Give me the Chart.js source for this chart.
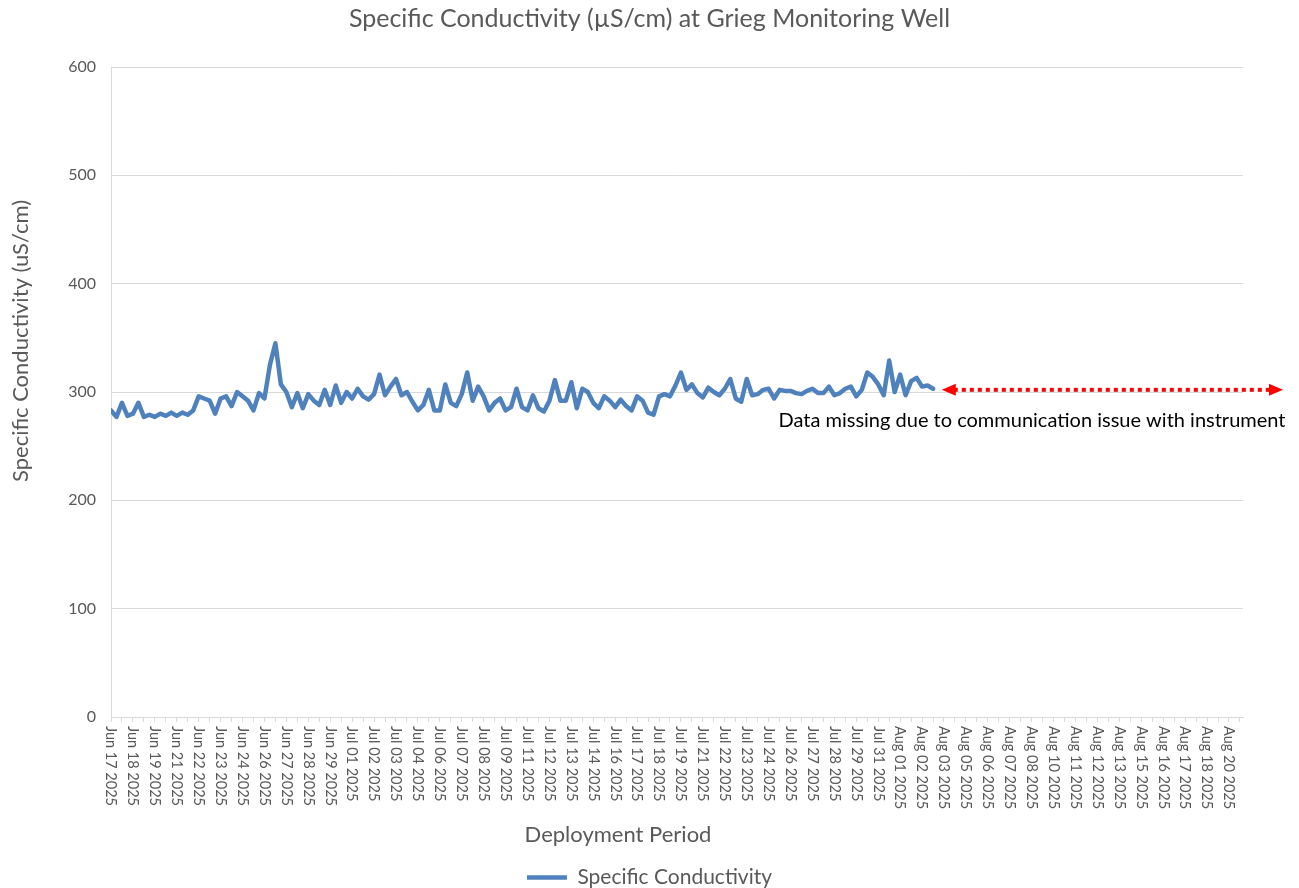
<!DOCTYPE html>
<html>
<head>
<meta charset="utf-8">
<title>Specific Conductivity at Grieg Monitoring Well</title>
<script src="https://cdn.jsdelivr.net/npm/chart.js@4"></script>
<style>
  html, body { margin: 0; padding: 0; background: #fff; }
  #wrap { width: 1299px; height: 888px; }
</style>
</head>
<body>
<div id="wrap"><canvas id="results"></canvas></div>
<script>
// tick labels along the deployment axis (one per category step)
const tickLabels = [
  'Jun 17 2025', 'Jun 18 2025', 'Jun 19 2025', 'Jun 21 2025', 'Jun 22 2025', 'Jun 23 2025',
  'Jun 24 2025', 'Jun 26 2025', 'Jun 27 2025', 'Jun 28 2025', 'Jun 29 2025',
  'Jul 01 2025', 'Jul 02 2025', 'Jul 03 2025', 'Jul 04 2025', 'Jul 06 2025', 'Jul 07 2025',
  'Jul 08 2025', 'Jul 09 2025', 'Jul 11 2025', 'Jul 12 2025', 'Jul 13 2025', 'Jul 14 2025',
  'Jul 16 2025', 'Jul 17 2025', 'Jul 18 2025', 'Jul 19 2025', 'Jul 21 2025', 'Jul 22 2025',
  'Jul 23 2025', 'Jul 24 2025', 'Jul 26 2025', 'Jul 27 2025', 'Jul 28 2025', 'Jul 29 2025',
  'Jul 31 2025', 'Aug 01 2025', 'Aug 02 2025', 'Aug 03 2025', 'Aug 05 2025', 'Aug 06 2025',
  'Aug 07 2025', 'Aug 08 2025', 'Aug 10 2025', 'Aug 11 2025', 'Aug 12 2025', 'Aug 13 2025',
  'Aug 15 2025', 'Aug 16 2025', 'Aug 17 2025', 'Aug 18 2025', 'Aug 20 2025'
];

// readings, 4 per label step, starting at Jun 17 (uS/cm)
const conductivity = [
  283, 277, 290, 278, 280, 290, 277, 279, 277, 280,
  278, 281, 278, 281, 279, 283, 296, 294, 292, 280,
  294, 296, 287, 300, 296, 292, 283, 299, 294, 325,
  345, 307, 300, 286, 299, 285, 298, 292, 288, 302,
  288, 306, 290, 300, 294, 303, 296, 293, 298, 316,
  297, 305, 312, 297, 300, 291, 283, 288, 302, 283,
  283, 307, 290, 287, 298, 318, 292, 305, 296, 283,
  290, 294, 283, 286, 303, 286, 283, 297, 285, 282,
  292, 311, 292, 292, 309, 285, 303, 300, 290, 285,
  296, 292, 286, 293, 287, 283, 296, 292, 281, 279,
  296, 298, 296, 306, 318, 302, 307, 299, 295, 304,
  300, 297, 303, 312, 294, 291, 312, 297, 298, 302,
  303, 294, 302, 301, 301, 299, 298, 301, 303, 299,
  299, 305, 297, 299, 303, 305, 296, 302, 318, 314,
  307, 297, 329, 300, 316, 297, 310, 313, 305, 306,
  303
];
const pointsPerStep = 4;

const yTicks = [0, 100, 200, 300, 400, 500, 600];
const missingLevel = 302;   // height of the "data missing" arrow
const missingFrom = 37.9;   // where the gap starts, in label steps

const FONT = 'Lato, "Open Sans", sans-serif';
const GREY = '#595959';

const points = conductivity.map((v, i) => ({ x: i / pointsPerStep, y: v }));

const extras = {
  id: 'extras',
  afterDraw(chart) {
    const { ctx, chartArea } = chart;
    const xs = chart.scales.x;
    const ys = chart.scales.y;

    // date labels, reading top to bottom
    ctx.save();
    ctx.font = '14.5px ' + FONT;
    ctx.fillStyle = GREY;
    ctx.textAlign = 'left';
    ctx.textBaseline = 'middle';
    tickLabels.forEach((t, k) => {
      ctx.save();
      ctx.translate(xs.getPixelForValue(k), xs.top + 9);
      ctx.rotate(Math.PI / 2);
      ctx.fillText(t, 0, 0);
      ctx.restore();
    });
    ctx.restore();

    // axis titles
    ctx.save();
    ctx.font = '22px ' + FONT;
    ctx.fillStyle = GREY;
    ctx.textAlign = 'center';
    ctx.textBaseline = 'middle';
    ctx.fillText('Deployment Period', 618, 835);
    ctx.translate(21, 341);
    ctx.rotate(-Math.PI / 2);
    ctx.fillText('Specific Conductivity (uS/cm)', 0, 0);
    ctx.restore();

    // red dotted double arrow for the gap
    const y = ys.getPixelForValue(missingLevel);
    const x0 = xs.getPixelForValue(missingFrom);
    const x1 = chartArea.right + 40;
    ctx.save();
    ctx.strokeStyle = '#ff0000';
    ctx.fillStyle = '#ff0000';
    ctx.lineWidth = 4;
    ctx.setLineDash([4, 4]);
    ctx.beginPath();
    ctx.moveTo(x0 + 12, y);
    ctx.lineTo(x1 - 12, y);
    ctx.stroke();
    ctx.setLineDash([]);
    ctx.beginPath();
    ctx.moveTo(x0, y);
    ctx.lineTo(x0 + 14, y - 6);
    ctx.lineTo(x0 + 14, y + 6);
    ctx.closePath();
    ctx.fill();
    ctx.beginPath();
    ctx.moveTo(x1, y);
    ctx.lineTo(x1 - 14, y - 6);
    ctx.lineTo(x1 - 14, y + 6);
    ctx.closePath();
    ctx.fill();

    ctx.font = '20px ' + FONT;
    ctx.fillStyle = '#000';
    ctx.textAlign = 'center';
    ctx.textBaseline = 'middle';
    ctx.fillText('Data missing due to communication issue with instrument', 1032, y + 31);
    ctx.restore();
  }
};

const ctx = document.getElementById('results');

const chart = new Chart(ctx, {
  type: 'line',
  data: {
    datasets: [{
      label: 'Specific Conductivity',
      data: points,
      borderColor: '#4f81bd',
      backgroundColor: '#4f81bd',
      borderWidth: 4.5,
      borderJoinStyle: 'round',
      borderCapStyle: 'round',
      pointRadius: 0,
      tension: 0
    }]
  },
  options: {
    responsive: true,
    maintainAspectRatio: false,
    animation: false,
    layout: { padding: { left: 0, right: 0, top: 0, bottom: -10 } },
    plugins: {
      title: {
        display: true,
        text: 'Specific Conductivity (µS/cm) at Grieg Monitoring Well',
        color: GREY,
        font: { family: FONT, size: 25, weight: 'normal' },
        padding: { top: 4, bottom: 33 }
      },
      legend: {
        position: 'bottom',
        labels: {
          color: GREY,
          font: { family: FONT, size: 21 },
          usePointStyle: true,
          pointStyle: 'line',
          pointStyleWidth: 40,
          padding: 0
        }
      },
      tooltip: { enabled: false }
    },
    scales: {
      x: {
        type: 'linear',
        min: 0,
        max: 51.64,
        afterBuildTicks(scale) {
          const t = [];
          for (let k = 0; k <= 103; k++) t.push({ value: k / 2 });
          scale.ticks = t;
        },
        afterFit(scale) { scale.height = 150; },
        ticks: { display: false },
        grid: { drawOnChartArea: false, drawTicks: true, tickLength: 5, color: '#d9d9d9' },
        border: { display: true, color: '#d9d9d9' }
      },
      y: {
        min: 0,
        max: 600,
        afterBuildTicks(scale) { scale.ticks = yTicks.map(v => ({ value: v })); },
        afterFit(scale) { scale.width = 111; },
        ticks: { color: GREY, font: { family: FONT, size: 16 }, padding: 15 },
        grid: { color: '#d9d9d9', drawTicks: false },
        border: { display: true, color: '#d9d9d9' }
      },
      // empty strip on the right, keeps the plot short of the canvas edge
      pad: {
        type: 'linear',
        position: 'right',
        display: true,
        afterFit(scale) { scale.width = 56; },
        ticks: { display: false },
        grid: { display: false, drawOnChartArea: false },
        border: { display: false }
      }
    }
  },
  plugins: [extras]
});
</script>
</body>
</html>
